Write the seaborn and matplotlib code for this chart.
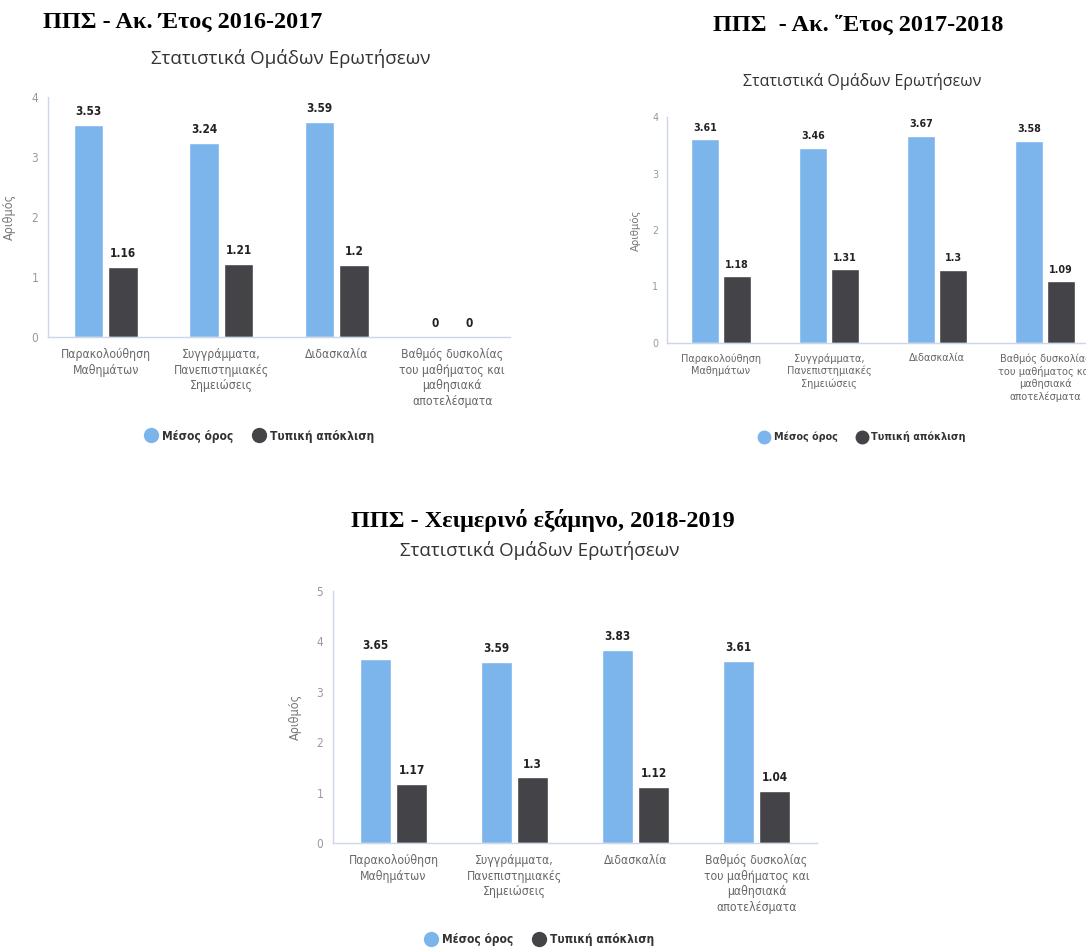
import matplotlib
matplotlib.use('Agg')
import matplotlib.pyplot as plt
from matplotlib.lines import Line2D
import pandas as pd
import seaborn as sns

# ---- data ----
categories = ['Παρακολούθηση\nΜαθημάτων',
              'Συγγράμματα,\nΠανεπιστημιακές\nΣημειώσεις',
              'Διδασκαλία',
              'Βαθμός δυσκολίας\nτου μαθήματος και\nμαθησιακά\nαποτελέσματα']
series_names = ['Μέσος όρος', 'Τυπική απόκλιση']

mean_1617 = [3.53, 3.24, 3.59, 0]
std_1617 = [1.16, 1.21, 1.2, 0]
mean_1718 = [3.61, 3.46, 3.67, 3.58]
std_1718 = [1.18, 1.31, 1.3, 1.09]
mean_1819 = [3.65, 3.59, 3.83, 3.61]
std_1819 = [1.17, 1.3, 1.12, 1.04]

headings = ['ΠΠΣ - Ακ. Έτος 2016-2017',
            'ΠΠΣ  - Ακ. ῞Ετος 2017-2018',
            'ΠΠΣ - Χειμερινό εξάμηνο, 2018-2019']
subtitle = 'Στατιστικά Ομάδων Ερωτήσεων'
ylabel = 'Αριθμός'
y_max = [4, 4, 5]

blue = '#7cb5ec'
dark = '#434348'
axis_col = '#ccd6eb'
narrow = ['DejaVu Sans']

W, H = 1086, 952
sns.set_style('white')
plt.rcParams['font.family'] = narrow
plt.rcParams['font.stretch'] = 'condensed'

fig = plt.figure(figsize=(W / 100, H / 100), dpi=100)


def px(x, y):
    return x / W, 1 - y / H


def panel(rect, means, stds, ymax, s, leg_xy, ylab_off):
    # rect in pixels: left, top, right, bottom
    l, t, r, b = rect
    ax = fig.add_axes([l / W, 1 - b / H, (r - l) / W, (b - t) / H])
    df = pd.DataFrame({
        'cat': categories * 2,
        'value': means + stds,
        'series': [series_names[0]] * 4 + [series_names[1]] * 4,
    })
    sns.barplot(data=df, x='cat', y='value', hue='series', order=categories,
                hue_order=series_names, palette=[blue, dark], saturation=1,
                width=0.6, gap=0.14, legend=False, ax=ax)
    for c in ax.containers:
        ax.bar_label(c, fmt='%g', padding=5 * s, fontsize=8.5 * s,
                     fontweight='bold', color='#222222', fontstretch='condensed')
    ax.set_xlim(-0.5, 3.5)
    ax.set_ylim(0, ymax)
    ax.set_yticks(range(ymax + 1))
    ax.set_xlabel('')
    ax.set_ylabel(ylabel, fontsize=9 * s, color='#777777')
    ax.yaxis.set_label_coords(-ylab_off / (r - l), 0.5)
    sns.despine(ax=ax)
    for sp in ['left', 'bottom']:
        ax.spines[sp].set_color(axis_col)
        ax.spines[sp].set_linewidth(1)
    ax.tick_params(axis='y', length=0, pad=7 * s, labelsize=8.5 * s,
                   labelcolor='#999999')
    ax.tick_params(axis='x', which='major', length=0, pad=8 * s,
                   labelsize=8.7 * s, labelcolor='#666666')
    for lab in ax.get_xticklabels() + ax.get_yticklabels():
        lab.set_fontstretch('condensed')
        lab.set_linespacing(1.25)
    ax.set_xticks([-0.5, 0.5, 1.5, 2.5, 3.5], minor=True)
    ax.tick_params(axis='x', which='minor', length=8 * s, color=axis_col,
                   width=1)
    handles = [Line2D([], [], marker='o', ls='', color=blue, markersize=10 * s),
               Line2D([], [], marker='o', ls='', color=dark, markersize=10 * s)]
    lx = (leg_xy[0] - l) / (r - l)
    ly = (b - leg_xy[1]) / (b - t)
    ax.legend(handles, series_names, loc='center', bbox_to_anchor=(lx, ly),
              ncol=2, frameon=False, handletextpad=0.5, columnspacing=1.8,
              handlelength=0.8,
              prop={'family': narrow, 'size': 8.6 * s, 'weight': 'bold',
                    'stretch': 'condensed'},
              labelcolor='#333333')
    return ax


panel((48, 97, 510, 337), mean_1617, std_1617, y_max[0], 1.0, (260, 436), 32)
panel((667, 117, 1099, 343), mean_1718, std_1718, y_max[1], 0.9, (863, 437), 26)
panel((333, 591, 817, 843), mean_1819, std_1819, y_max[2], 1.0, (540, 940), 31)

serif = ['Liberation Serif', 'DejaVu Serif']
for txt, (x, y) in zip(headings, [(183, 22), (858, 25), (543, 520)]):
    fig.text(*px(x, y), txt, ha='center', va='center', fontsize=17.5,
             fontweight='bold', family=serif, color='black',
             fontstretch='normal')

sub_font = ['Open Sans', 'DejaVu Sans']
for (x, y), fs in zip([(291, 58), (862, 82), (540, 550)], [13.5, 11.5, 13.5]):
    fig.text(*px(x, y), subtitle, ha='center', va='center', fontsize=fs,
             family=sub_font, color='#333333', fontstretch='normal')

fig.savefig('out.png', dpi=100)
